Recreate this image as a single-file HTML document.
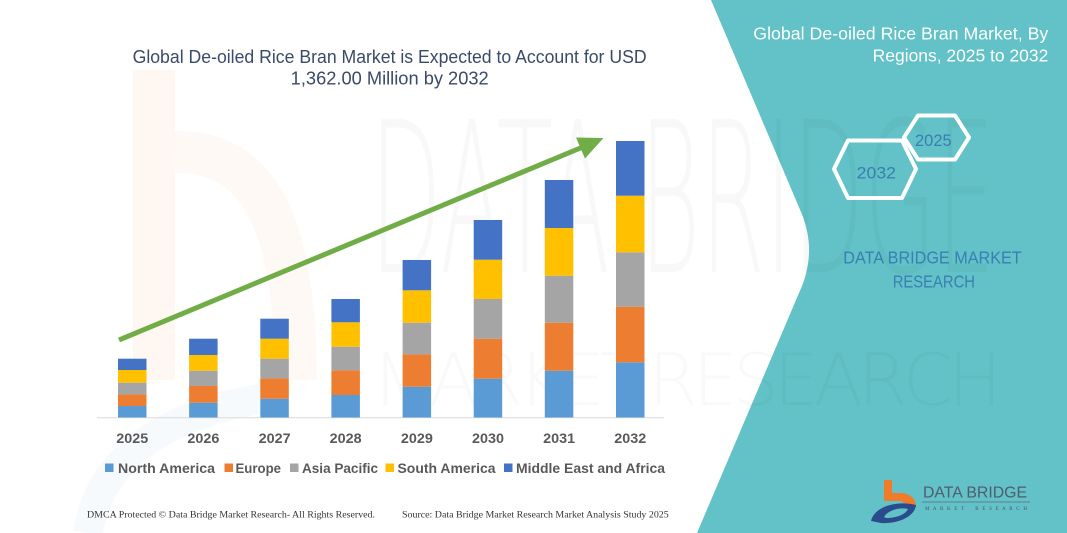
<!DOCTYPE html>
<html>
<head>
<meta charset="utf-8">
<style>
  html,body{margin:0;padding:0;background:#fff;}
  svg{display:block;}
</style>
</head>
<body>
<svg width="1067" height="533" viewBox="0 0 1067 533" xmlns="http://www.w3.org/2000/svg" font-family="Liberation Sans, sans-serif">
  <rect x="0" y="0" width="1067" height="533" fill="#ffffff"/>

  <!-- faint watermarks -->
  <rect x="133" y="70" width="42" height="310" fill="#f4b183" opacity="0.10"/>
  <path d="M175,152 C262,150 296,230 296,380" fill="none" stroke="#f4b183" stroke-width="42" opacity="0.08"/>
  <path d="M88,533 Q105,425 265,398" fill="none" stroke="#9dc3e6" stroke-width="30" opacity="0.08"/>

  <!-- teal right panel -->
  <path d="M711,0 L801,212 Q818,252 799,293 L697,533 L1067,533 L1067,0 Z" fill="#62c2c7"/>

  <text x="370" y="272" font-size="210" style="font-family:'DejaVu Sans',sans-serif;font-weight:200" fill="#000" opacity="0.022" textLength="625" lengthAdjust="spacingAndGlyphs">DATA BRIDGE</text>
  <text x="372" y="405" font-size="72" style="font-family:'DejaVu Sans',sans-serif;font-weight:200;white-space:pre" fill="#000" opacity="0.018" textLength="630" lengthAdjust="spacing">M A R K E T  R E S E A R C H</text>

  <!-- chart title -->
  <text x="132.6" y="63" font-size="18" fill="#3b4a6b" textLength="514" lengthAdjust="spacingAndGlyphs">Global De-oiled Rice Bran Market is Expected to Account for USD</text>
  <text x="290.7" y="84.5" font-size="18" fill="#3b4a6b" textLength="198" lengthAdjust="spacingAndGlyphs">1,362.00 Million by 2032</text>

  <!-- axis line -->
  <line x1="97" y1="417.8" x2="664" y2="417.8" stroke="#d9d9d9" stroke-width="1"/>

  <!-- bars -->
  <g>
    <rect x="118" y="406" width="28.5" height="11.5" fill="#5b9bd5"/>
    <rect x="118" y="394.3" width="28.5" height="11.7" fill="#ed7d31"/>
    <rect x="118" y="382.7" width="28.5" height="11.6" fill="#a5a5a5"/>
    <rect x="118" y="370" width="28.5" height="12.7" fill="#ffc000"/>
    <rect x="118" y="358.7" width="28.5" height="11.3" fill="#4472c4"/>

    <rect x="189.1" y="402.7" width="28.5" height="14.8" fill="#5b9bd5"/>
    <rect x="189.1" y="386" width="28.5" height="16.7" fill="#ed7d31"/>
    <rect x="189.1" y="370.7" width="28.5" height="15.3" fill="#a5a5a5"/>
    <rect x="189.1" y="355" width="28.5" height="15.7" fill="#ffc000"/>
    <rect x="189.1" y="338.7" width="28.5" height="16.3" fill="#4472c4"/>

    <rect x="260.3" y="398.7" width="28.5" height="18.8" fill="#5b9bd5"/>
    <rect x="260.3" y="378.3" width="28.5" height="20.4" fill="#ed7d31"/>
    <rect x="260.3" y="358.7" width="28.5" height="19.6" fill="#a5a5a5"/>
    <rect x="260.3" y="338.7" width="28.5" height="20" fill="#ffc000"/>
    <rect x="260.3" y="318.7" width="28.5" height="20" fill="#4472c4"/>

    <rect x="331.4" y="395" width="28.5" height="22.5" fill="#5b9bd5"/>
    <rect x="331.4" y="370.3" width="28.5" height="24.7" fill="#ed7d31"/>
    <rect x="331.4" y="346.7" width="28.5" height="23.6" fill="#a5a5a5"/>
    <rect x="331.4" y="322.3" width="28.5" height="24.4" fill="#ffc000"/>
    <rect x="331.4" y="299" width="28.5" height="23.3" fill="#4472c4"/>

    <rect x="402.6" y="386.7" width="28.5" height="30.8" fill="#5b9bd5"/>
    <rect x="402.6" y="354.3" width="28.5" height="32.4" fill="#ed7d31"/>
    <rect x="402.6" y="322.7" width="28.5" height="31.6" fill="#a5a5a5"/>
    <rect x="402.6" y="290.3" width="28.5" height="32.4" fill="#ffc000"/>
    <rect x="402.6" y="260" width="28.5" height="30.3" fill="#4472c4"/>

    <rect x="473.7" y="378.7" width="28.5" height="38.8" fill="#5b9bd5"/>
    <rect x="473.7" y="338.7" width="28.5" height="40" fill="#ed7d31"/>
    <rect x="473.7" y="299" width="28.5" height="39.7" fill="#a5a5a5"/>
    <rect x="473.7" y="259.7" width="28.5" height="39.3" fill="#ffc000"/>
    <rect x="473.7" y="220" width="28.5" height="39.7" fill="#4472c4"/>

    <rect x="544.8" y="370.7" width="28.5" height="46.8" fill="#5b9bd5"/>
    <rect x="544.8" y="322.7" width="28.5" height="48" fill="#ed7d31"/>
    <rect x="544.8" y="275.7" width="28.5" height="47" fill="#a5a5a5"/>
    <rect x="544.8" y="228" width="28.5" height="47.7" fill="#ffc000"/>
    <rect x="544.8" y="180" width="28.5" height="48" fill="#4472c4"/>

    <rect x="616" y="362.3" width="28.5" height="55.2" fill="#5b9bd5"/>
    <rect x="616" y="306.7" width="28.5" height="55.6" fill="#ed7d31"/>
    <rect x="616" y="252.3" width="28.5" height="54.4" fill="#a5a5a5"/>
    <rect x="616" y="195.7" width="28.5" height="56.6" fill="#ffc000"/>
    <rect x="616" y="141" width="28.5" height="54.7" fill="#4472c4"/>
  </g>

  <!-- arrow -->
  <line x1="119" y1="340" x2="584" y2="146.5" stroke="#70ad47" stroke-width="5"/>
  <polygon points="603.5,138 576,137.5 585,158.5" fill="#70ad47"/>

  <!-- year labels -->
  <g font-size="13.5" font-weight="bold" fill="#595959" text-anchor="middle">
    <text x="132.3" y="443" textLength="32" lengthAdjust="spacingAndGlyphs">2025</text>
    <text x="203.4" y="443" textLength="32" lengthAdjust="spacingAndGlyphs">2026</text>
    <text x="274.6" y="443" textLength="32" lengthAdjust="spacingAndGlyphs">2027</text>
    <text x="345.7" y="443" textLength="32" lengthAdjust="spacingAndGlyphs">2028</text>
    <text x="416.9" y="443" textLength="32" lengthAdjust="spacingAndGlyphs">2029</text>
    <text x="488" y="443" textLength="32" lengthAdjust="spacingAndGlyphs">2030</text>
    <text x="559.1" y="443" textLength="32" lengthAdjust="spacingAndGlyphs">2031</text>
    <text x="630.3" y="443" textLength="32" lengthAdjust="spacingAndGlyphs">2032</text>
  </g>

  <!-- legend -->
  <g font-size="13.5" font-weight="bold" fill="#595959">
    <rect x="105" y="463.5" width="8.5" height="8.5" fill="#5b9bd5"/>
    <text x="118" y="473" textLength="97" lengthAdjust="spacingAndGlyphs">North America</text>
    <rect x="224.5" y="463.5" width="8.5" height="8.5" fill="#ed7d31"/>
    <text x="235.5" y="473" textLength="45.5" lengthAdjust="spacingAndGlyphs">Europe</text>
    <rect x="290" y="463.5" width="8.5" height="8.5" fill="#a5a5a5"/>
    <text x="302" y="473" textLength="76" lengthAdjust="spacingAndGlyphs">Asia Pacific</text>
    <rect x="385.5" y="463.5" width="8.5" height="8.5" fill="#ffc000"/>
    <text x="397.5" y="473" textLength="98" lengthAdjust="spacingAndGlyphs">South America</text>
    <rect x="504" y="463.5" width="8.5" height="8.5" fill="#4472c4"/>
    <text x="516" y="473" textLength="149" lengthAdjust="spacingAndGlyphs">Middle East and Africa</text>
  </g>

  <!-- footer -->
  <g font-family="Liberation Serif, serif" font-size="9.5" fill="#333333">
    <text x="87" y="517.5" textLength="288" lengthAdjust="spacingAndGlyphs">DMCA Protected © Data Bridge Market Research-  All Rights Reserved.</text>
    <text x="402" y="517.5" textLength="266.7" lengthAdjust="spacingAndGlyphs">Source:  Data Bridge Market Research  Market Analysis Study 2025</text>
  </g>

  <!-- right panel title -->
  <text x="753.3" y="39.5" font-size="17.3" fill="#ffffff" textLength="295" lengthAdjust="spacingAndGlyphs">Global De-oiled Rice Bran Market, By</text>
  <text x="872.7" y="61.5" font-size="17.3" fill="#ffffff" textLength="175.6" lengthAdjust="spacingAndGlyphs">Regions, 2025 to 2032</text>

  <!-- hexagons -->
  <polygon points="904,137.5 918,115.5 955,115.5 969,137.5 955,159.5 918,159.5" fill="none" stroke="#ffffff" stroke-width="4" stroke-linejoin="round"/>
  <polygon points="834,169 848,140.5 902,140.5 916,169 902,198 848,198" fill="none" stroke="#ffffff" stroke-width="4" stroke-linejoin="round"/>
  <text x="915" y="146" font-size="17" fill="#3a7db3" textLength="36.7" lengthAdjust="spacingAndGlyphs">2025</text>
  <text x="856.7" y="178.3" font-size="17" fill="#3a7db3" textLength="39.3" lengthAdjust="spacingAndGlyphs">2032</text>

  <!-- DATA BRIDGE MARKET RESEARCH -->
  <text x="843.3" y="263.3" font-size="17.3" fill="#3a7fb3" textLength="178.4" lengthAdjust="spacingAndGlyphs">DATA BRIDGE MARKET</text>
  <text x="892.7" y="287.3" font-size="17.3" fill="#3a7fb3" textLength="82.3" lengthAdjust="spacingAndGlyphs">RESEARCH</text>

  <!-- logo -->
  <rect x="884" y="480" width="8" height="15" fill="#f07c2a"/>
  <path d="M884,493 L902,493 Q916,495 916,507 L906,507 Q905,501 898,501 L884,501 Z" fill="#f07c2a"/>
  <path d="M871,521 C874,507 896,500 916,505 C915,516 899,524 881,523 Z" fill="#2b4c8c"/>
  <path d="M884,517 C888,510 900,507 908,509 C905,515 896,518 886,518 Z" fill="#62c2c7"/>
  <text x="923" y="497.5" font-size="16" fill="#505c70" textLength="104" lengthAdjust="spacingAndGlyphs">DATA BRIDGE</text>
  <line x1="922" y1="502" x2="1030" y2="502" stroke="#5d6b7d" stroke-width="0.8"/>
  <text x="925" y="510" font-size="5" font-family="Liberation Serif, serif" fill="#4a5568" textLength="102" lengthAdjust="spacing" style="white-space:pre">M A R K E T    R E S E A R C H</text>
</svg>
</body>
</html>
